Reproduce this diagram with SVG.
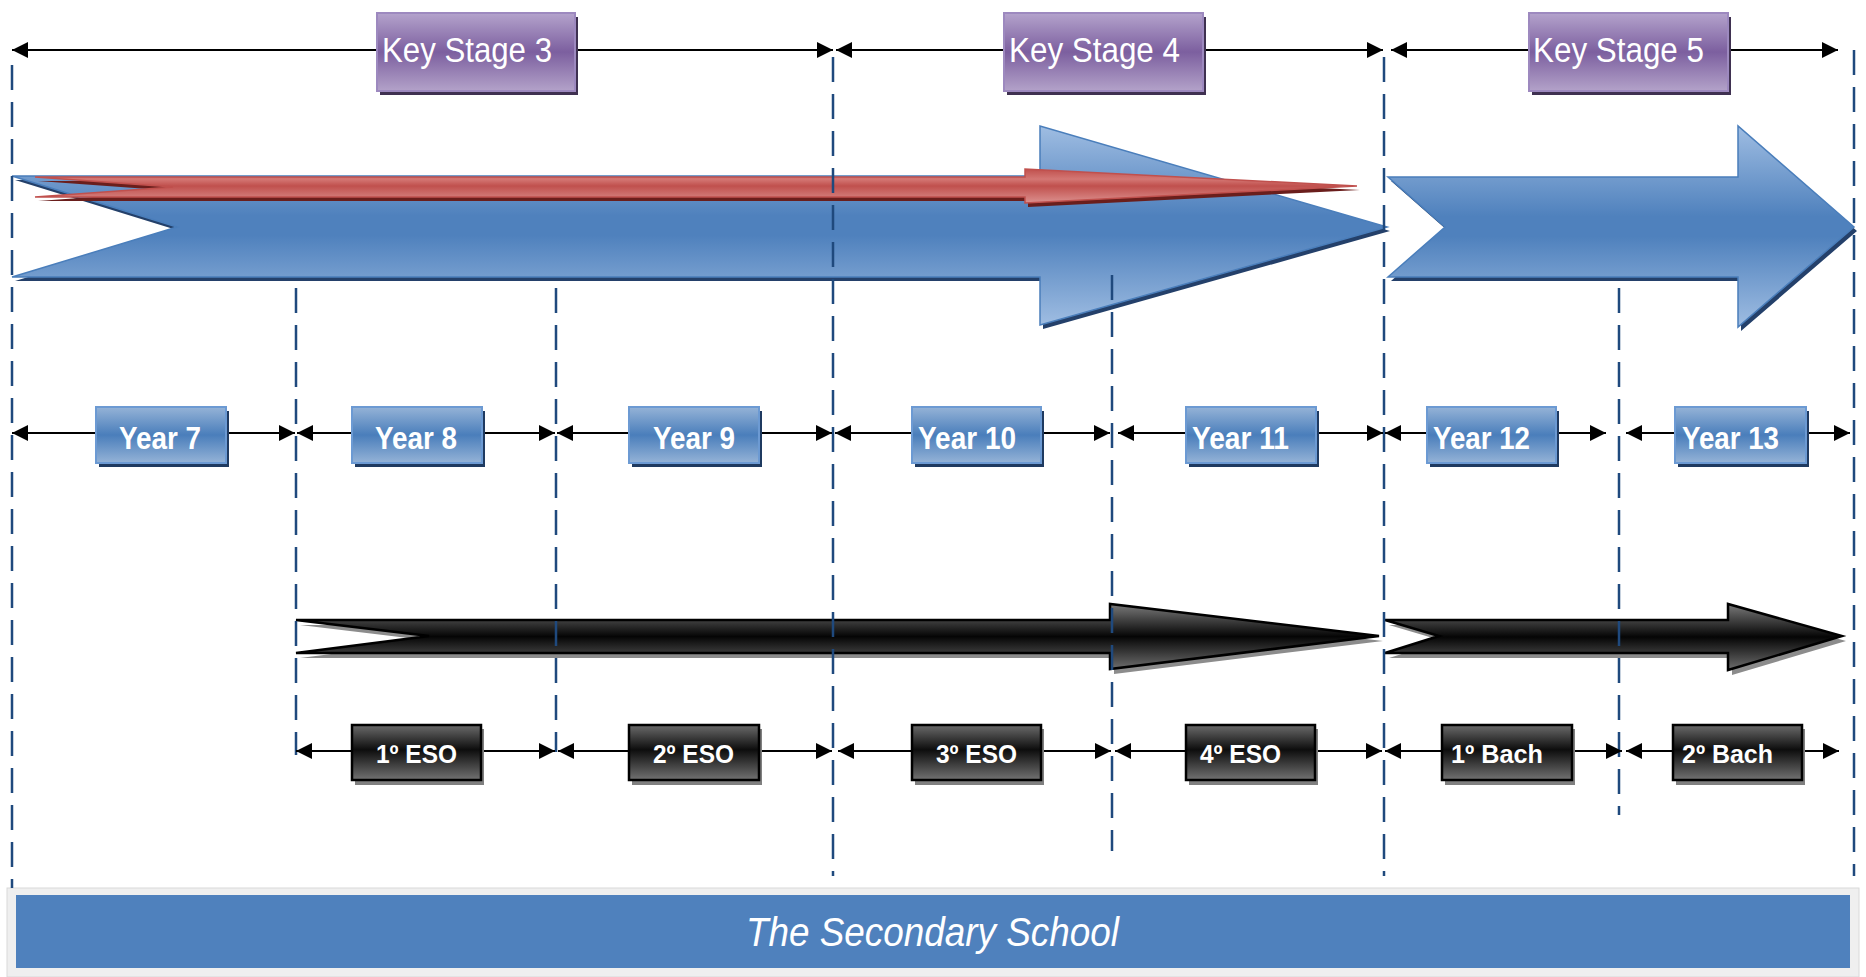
<svg xmlns="http://www.w3.org/2000/svg" width="1866" height="977" viewBox="0 0 1866 977">
<defs>
<style>
.lbl{font-family:"Liberation Sans",Arial,sans-serif;fill:#ffffff}
.ks{font-size:35px}
.yr{font-size:31px;font-weight:bold}
.eso{font-size:26px;font-weight:bold}
.dash{stroke:#1f497d;stroke-width:2.5;stroke-dasharray:25 12;fill:none}
.dim{stroke:#000;stroke-width:2;fill:none;marker-start:url(#ah);marker-end:url(#ah)}
.ksbox{fill:url(#gPurple);stroke:#9d89bf;stroke-width:2}
.ksshadow{fill:#3f3151}
.yrbox{fill:url(#gBlueBox);stroke:#6c9ad3;stroke-width:2}
.yrshadow{fill:#1f3a60}
.esobox{fill:url(#gBlackBox);stroke:#000;stroke-width:2.5}
.esoshadow{fill:#808080}
</style>
<linearGradient id="gBlue" x1="0" y1="0" x2="0" y2="1">
<stop offset="0" stop-color="#9fbde2"/>
<stop offset="0.45" stop-color="#4f81bd"/>
<stop offset="0.55" stop-color="#4f81bd"/>
<stop offset="1" stop-color="#9fbde2"/>
</linearGradient>
<linearGradient id="gBlueBox" x1="0" y1="0" x2="0" y2="1">
<stop offset="0" stop-color="#95b3d7"/>
<stop offset="0.5" stop-color="#4a7ebb"/>
<stop offset="1" stop-color="#95b3d7"/>
</linearGradient>
<linearGradient id="gPurple" x1="0" y1="0" x2="0" y2="1">
<stop offset="0" stop-color="#b4a3cc"/>
<stop offset="0.5" stop-color="#7c5f9f"/>
<stop offset="1" stop-color="#b3a2c9"/>
</linearGradient>
<linearGradient id="gBlackBox" x1="0" y1="0" x2="0" y2="1">
<stop offset="0" stop-color="#6b6b6b"/>
<stop offset="0.45" stop-color="#0d0d0d"/>
<stop offset="1" stop-color="#727272"/>
</linearGradient>
<linearGradient id="gBlackArrow" x1="0" y1="0" x2="0" y2="1">
<stop offset="0" stop-color="#7a7a7a"/>
<stop offset="0.5" stop-color="#050505"/>
<stop offset="1" stop-color="#6e6e6e"/>
</linearGradient>
<linearGradient id="gRed" x1="0" y1="0" x2="0" y2="1">
<stop offset="0" stop-color="#c0504d"/>
<stop offset="0.3" stop-color="#d47774"/>
<stop offset="0.5" stop-color="#c0504d"/>
<stop offset="1" stop-color="#dc918f"/>
</linearGradient>
<marker id="ah" viewBox="0 0 16 16" markerWidth="16" markerHeight="16" refX="16" refY="8" markerUnits="userSpaceOnUse" orient="auto-start-reverse">
<path d="M0,0 L16,8 L0,16 z" fill="#000"/>
</marker>
</defs>

<rect x="0" y="0" width="1866" height="977" fill="#ffffff"/>

<!-- big blue arrows -->
<g id="blue-arrow-ks3-4">
<polygon points="15,180 1043,180 1043,130 1390,231 1043,329 1043,281 15,281 180,231" fill="#24406a"/>
<polygon points="12,176 1040,176 1040,126 1387,227 1040,325 1040,277 12,277 177,227" fill="url(#gBlue)" stroke="#4a7ebb" stroke-width="1.5"/>
</g>
<g id="blue-arrow-ks5">
<polygon points="1391,181 1741,181 1741,130 1857,231 1741,331 1741,281 1391,281 1448,231" fill="#24406a"/>
<polygon points="1388,177 1738,177 1738,126 1854,227 1738,327 1738,277 1388,277 1445,227" fill="url(#gBlue)" stroke="#4a7ebb" stroke-width="1.5"/>
</g>
<g id="red-arrow">
<polygon points="38,181 1028,181 1028,173 1360,190 1028,207 1028,201 38,201 176,191" fill="#6a1e1c"/>
<polygon points="35,177 1025,177 1025,169 1357,186 1025,203 1025,197 35,197 173,187" fill="url(#gRed)" stroke="#c0504d" stroke-width="1.5"/>
</g>

<!-- black arrows -->
<g id="black-arrow-eso">
<polygon points="300,625 1114,625 1114,609 1383,641 1114,674 1114,658 300,658 433,641" fill="#8c8c8c"/>
<polygon points="296,620 1110,620 1110,604 1379,636 1110,669 1110,653 296,653 429,636" fill="url(#gBlackArrow)" stroke="#000" stroke-width="2.5"/>
</g>
<g id="black-arrow-bach">
<polygon points="1389,625 1732,625 1732,609 1846,641 1732,675 1732,658 1389,658 1443,641" fill="#8c8c8c"/>
<polygon points="1385,620 1728,620 1728,604 1842,636 1728,670 1728,653 1385,653 1439,636" fill="url(#gBlackArrow)" stroke="#000" stroke-width="2.5"/>
</g>

<!-- bottom bar -->
<g id="secondary-school">
<rect x="7" y="888" width="1852" height="89" fill="#efefef" stroke="#d9d9d9" stroke-width="1"/>
<rect x="16" y="895" width="1834" height="73" fill="#4f81bd"/>
<text class="lbl" x="746" y="946" font-size="40" font-style="italic" textLength="373" lengthAdjust="spacingAndGlyphs">The Secondary School</text>
</g>

<!-- connectors -->
<g id="connectors">
<line class="dash" x1="12" y1="65" x2="12" y2="888"/>
<line class="dash" x1="296" y1="288" x2="296" y2="755"/>
<line class="dash" x1="556" y1="288" x2="556" y2="752"/>
<line class="dash" x1="833" y1="57" x2="833" y2="876"/>
<line class="dash" x1="1112" y1="275" x2="1112" y2="851"/>
<line class="dash" x1="1384" y1="57" x2="1384" y2="876"/>
<line class="dash" x1="1619" y1="288" x2="1619" y2="815"/>
<line class="dash" x1="1854" y1="50" x2="1854" y2="876"/>

<line class="dim" x1="12" y1="50" x2="833" y2="50" stroke-width="2.5"/>
<line class="dim" x1="836" y1="50" x2="1383" y2="50" stroke-width="2.5"/>
<line class="dim" x1="1391" y1="50" x2="1838" y2="50" stroke-width="2.5"/>

<line class="dim" x1="12" y1="433" x2="295" y2="433"/>
<line class="dim" x1="297" y1="433" x2="555" y2="433"/>
<line class="dim" x1="557" y1="433" x2="832" y2="433"/>
<line class="dim" x1="835" y1="433" x2="1110" y2="433"/>
<line class="dim" x1="1118" y1="433" x2="1383" y2="433"/>
<line class="dim" x1="1385" y1="433" x2="1606" y2="433"/>
<line class="dim" x1="1626" y1="433" x2="1850" y2="433"/>

<line class="dim" x1="296" y1="751" x2="555" y2="751"/>
<line class="dim" x1="558" y1="751" x2="832" y2="751"/>
<line class="dim" x1="838" y1="751" x2="1111" y2="751"/>
<line class="dim" x1="1115" y1="751" x2="1382" y2="751"/>
<line class="dim" x1="1385" y1="751" x2="1622" y2="751"/>
<line class="dim" x1="1626" y1="751" x2="1839" y2="751"/>
</g>

<!-- key stage nodes -->
<g id="ks3">
<rect class="ksshadow" x="380" y="17" width="198" height="78"/>
<rect class="ksbox" x="377" y="13" width="198" height="78"/>
<text class="lbl ks" x="382" y="62" textLength="170" lengthAdjust="spacingAndGlyphs">Key Stage 3</text>
</g>
<g id="ks4">
<rect class="ksshadow" x="1007" y="17" width="199" height="78"/>
<rect class="ksbox" x="1004" y="13" width="199" height="78"/>
<text class="lbl ks" x="1009" y="62" textLength="171" lengthAdjust="spacingAndGlyphs">Key Stage 4</text>
</g>
<g id="ks5">
<rect class="ksshadow" x="1532" y="17" width="199" height="78"/>
<rect class="ksbox" x="1529" y="13" width="199" height="78"/>
<text class="lbl ks" x="1533" y="62" textLength="171" lengthAdjust="spacingAndGlyphs">Key Stage 5</text>
</g>

<!-- year nodes -->
<g id="year7">
<rect class="yrshadow" x="99" y="411" width="130" height="56"/>
<rect class="yrbox" x="96" y="407" width="130" height="56"/>
<text class="lbl yr" x="119" y="449" textLength="82" lengthAdjust="spacingAndGlyphs">Year 7</text>
</g>
<g id="year8">
<rect class="yrshadow" x="355" y="411" width="130" height="56"/>
<rect class="yrbox" x="352" y="407" width="130" height="56"/>
<text class="lbl yr" x="375" y="449" textLength="82" lengthAdjust="spacingAndGlyphs">Year 8</text>
</g>
<g id="year9">
<rect class="yrshadow" x="632" y="411" width="130" height="56"/>
<rect class="yrbox" x="629" y="407" width="130" height="56"/>
<text class="lbl yr" x="653" y="449" textLength="82" lengthAdjust="spacingAndGlyphs">Year 9</text>
</g>
<g id="year10">
<rect class="yrshadow" x="915" y="411" width="129" height="56"/>
<rect class="yrbox" x="912" y="407" width="129" height="56"/>
<text class="lbl yr" x="918" y="449" textLength="98" lengthAdjust="spacingAndGlyphs">Year 10</text>
</g>
<g id="year11">
<rect class="yrshadow" x="1189" y="411" width="130" height="56"/>
<rect class="yrbox" x="1186" y="407" width="130" height="56"/>
<text class="lbl yr" x="1192" y="449" textLength="97" lengthAdjust="spacingAndGlyphs">Year 11</text>
</g>
<g id="year12">
<rect class="yrshadow" x="1430" y="411" width="129" height="56"/>
<rect class="yrbox" x="1427" y="407" width="129" height="56"/>
<text class="lbl yr" x="1433" y="449" textLength="97" lengthAdjust="spacingAndGlyphs">Year 12</text>
</g>
<g id="year13">
<rect class="yrshadow" x="1678" y="411" width="131" height="56"/>
<rect class="yrbox" x="1675" y="407" width="131" height="56"/>
<text class="lbl yr" x="1682" y="449" textLength="97" lengthAdjust="spacingAndGlyphs">Year 13</text>
</g>

<!-- spanish course nodes -->
<g id="eso1">
<rect class="esoshadow" x="355" y="729" width="129" height="56"/>
<rect class="esobox" x="352" y="725" width="129" height="55"/>
<text class="lbl eso" x="376" y="763" textLength="81" lengthAdjust="spacingAndGlyphs">1º ESO</text>
</g>
<g id="eso2">
<rect class="esoshadow" x="632" y="729" width="130" height="56"/>
<rect class="esobox" x="629" y="725" width="130" height="55"/>
<text class="lbl eso" x="653" y="763" textLength="81" lengthAdjust="spacingAndGlyphs">2º ESO</text>
</g>
<g id="eso3">
<rect class="esoshadow" x="915" y="729" width="129" height="56"/>
<rect class="esobox" x="912" y="725" width="129" height="55"/>
<text class="lbl eso" x="936" y="763" textLength="81" lengthAdjust="spacingAndGlyphs">3º ESO</text>
</g>
<g id="eso4">
<rect class="esoshadow" x="1189" y="729" width="129" height="56"/>
<rect class="esobox" x="1186" y="725" width="129" height="55"/>
<text class="lbl eso" x="1200" y="763" textLength="81" lengthAdjust="spacingAndGlyphs">4º ESO</text>
</g>
<g id="bach1">
<rect class="esoshadow" x="1445" y="729" width="130" height="56"/>
<rect class="esobox" x="1442" y="725" width="130" height="55"/>
<text class="lbl eso" x="1451" y="763" textLength="92" lengthAdjust="spacingAndGlyphs">1º Bach</text>
</g>
<g id="bach2">
<rect class="esoshadow" x="1676" y="729" width="129" height="56"/>
<rect class="esobox" x="1673" y="725" width="129" height="55"/>
<text class="lbl eso" x="1682" y="763" textLength="91" lengthAdjust="spacingAndGlyphs">2º Bach</text>
</g>
</svg>
